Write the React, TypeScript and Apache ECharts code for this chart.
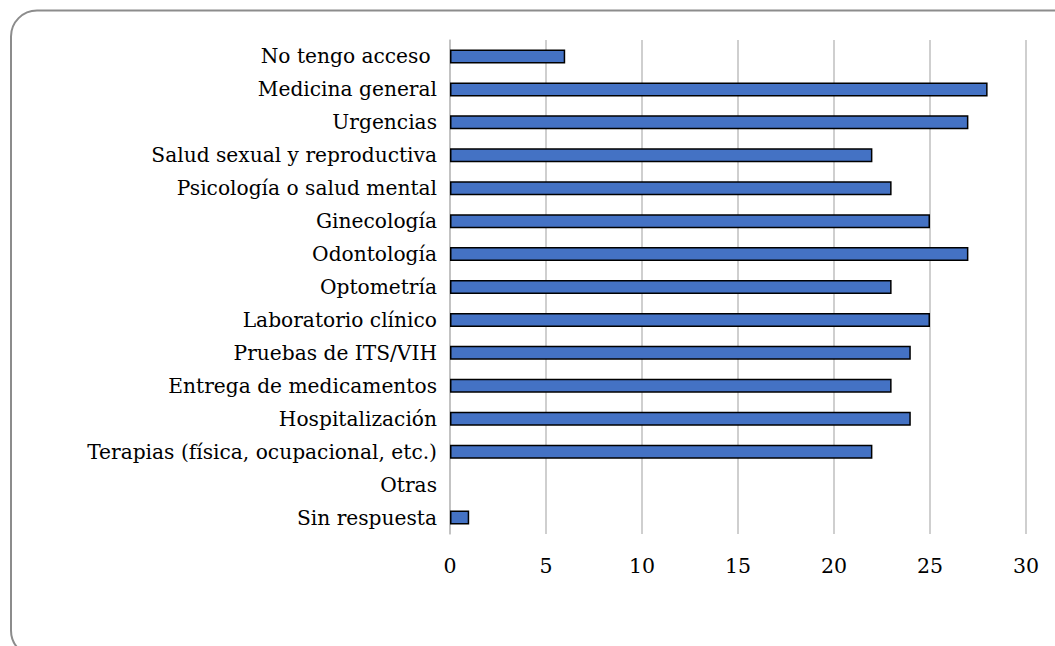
import React, { useEffect, useRef } from "react";
import * as echarts from "echarts";

const categories = [
  "No tengo acceso ",
  "Medicina general",
  "Urgencias",
  "Salud sexual y reproductiva",
  "Psicología o salud mental",
  "Ginecología",
  "Odontología",
  "Optometría",
  "Laboratorio clínico",
  "Pruebas de ITS/VIH",
  "Entrega de medicamentos",
  "Hospitalización",
  "Terapias (física, ocupacional, etc.)",
  "Otras",
  "Sin respuesta",
];
const values = [6, 28, 27, 22, 23, 25, 27, 23, 25, 24, 23, 24, 22, 0, 1];
const xMin = 0;
const xMax = 30;
const xInterval = 5;

const FONT = "DejaVu Serif";

export default function App() {
  const ref = useRef<HTMLDivElement>(null);
  useEffect(() => {
    if (!ref.current) return;
    const chart = echarts.init(ref.current, undefined, { renderer: "svg" });
    chart.setOption({
      animation: false,
      backgroundColor: "#ffffff",
      graphic: [
        {
          type: "rect",
          shape: { x: 11, y: 10.5, width: 1070, height: 646, r: 26 },
          style: { fill: "none", stroke: "#8c8c8c", lineWidth: 2 },
          silent: true,
          z: -1,
        },
      ],
      grid: { left: 450, right: 29, top: 40, bottom: 112, containLabel: false },
      xAxis: {
        type: "value",
        min: xMin,
        max: xMax,
        interval: xInterval,
        axisLine: { show: false },
        axisTick: { show: false },
        splitLine: { show: true, lineStyle: { color: "#bfbfbf", width: 1.5 } },
        axisLabel: { color: "#000", fontFamily: FONT, fontSize: 20.5, margin: 21 },
      },
      yAxis: {
        type: "category",
        data: categories,
        inverse: true,
        axisLine: { show: true, onZero: false, lineStyle: { color: "#bfbfbf", width: 1.5 } },
        axisTick: { show: false },
        axisLabel: { color: "#000", fontFamily: FONT, fontSize: 20.2, margin: 13 },
      },
      series: [
        {
          type: "bar",
          data: values.map((v) =>
            v === 0 ? { value: v, itemStyle: { borderWidth: 0 } } : v
          ),
          barWidth: 14,
          itemStyle: { color: "#4472c4", borderColor: "#000", borderWidth: 1.5 },
        },
      ],
    });
    return () => chart.dispose();
  }, []);
  return (
    <div
      ref={ref}
      style={{ position: "fixed", left: 0, top: 0, width: 1055, height: 646 }}
    />
  );
}
